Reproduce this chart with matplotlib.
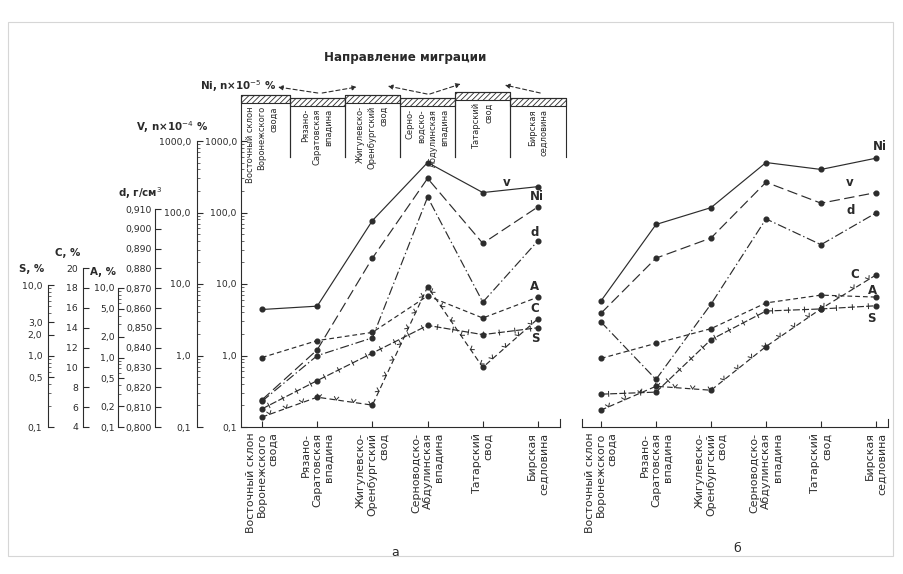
import numpy as np
import matplotlib
matplotlib.use('Agg')
import matplotlib.pyplot as plt
import matplotlib.transforms as mtransforms
from matplotlib.patches import Rectangle
from matplotlib import patheffects as pe
from matplotlib.ticker import FixedLocator, FuncFormatter

plt.rcParams['font.family'] = ['DejaVu Sans']
plt.rcParams['lines.scale_dashes'] = False
plt.rcParams['hatch.linewidth'] = 0.6
plt.rcParams['axes.linewidth'] = 0.8

# ---------------- data ----------------
categories = ["Восточный склон\nВоронежского\nсвода", "Рязано-\nСаратовская\nвпадина",
              "Жигулевско-\nОренбургский\nсвод", "Серноводско-\nАбдулинская\nвпадина",
              "Татарский\nсвод", "Бирская\nседловина"]
box_labels = ["Восточный склон\nВоронежского\nсвода", "Рязано-\nСаратовская\nвпадина",
              "Жигулевско-\nОренбургский\nсвод", "Серно-\nводско-\nАбдулинская\nвпадина",
              "Татарский\nсвод", "Бирская\nседловина"]

# panel а
V_a = [4.4, 4.9, 77, 500, 190, 230]
Ni_a = [0.24, 1.2, 23, 300, 37, 120]
d_a = [0.813, 0.836, 0.845, 0.916, 0.863, 0.894]
A_a = [1.0, 1.75, 2.3, 7.7, 3.7, 7.4]
C_a = [5.0, 7.0, 6.2, 18.1, 10.0, 14.9]
S_a = [0.18, 0.45, 1.1, 2.7, 2.0, 2.5]
# panel б
Ni_b = [5.8, 68, 117, 500, 400, 575]
V_b = [3.9, 23, 44, 265, 135, 190]
d_b = [0.853, 0.824, 0.862, 0.905, 0.892, 0.908]
A_b = [0.97, 1.6, 2.6, 6.1, 7.9, 7.4]
C_b = [5.7, 8.1, 7.7, 12.1, 15.9, 19.3]
S_b = [0.29, 0.31, 1.7, 4.3, 4.6, 5.1]

ni_v_ticks = [0.1, 1, 10, 100, 1000]
d_ticks = [0.800, 0.810, 0.820, 0.830, 0.840, 0.850, 0.860, 0.870, 0.880, 0.890, 0.900, 0.910]
A_ticks = [0.1, 0.2, 0.5, 1, 2, 5, 10]
C_ticks = [4, 6, 8, 10, 12, 14, 16, 18, 20]
S_ticks = [0.1, 0.5, 1, 2, 3, 10]

# ---------------- layout ----------------
W, H = 904, 574
fig = plt.figure(figsize=(W / 100, H / 100), dpi=100)
fig.patch.set_facecolor('white')
LINE = '#2c2c2c'
TXT = '#2a2a2a'


def fx(p):
    return p / W


def fy(p):
    return 1 - p / H


Y_BOT, Y_TOP = 427, 141


def log_top(lo, hi, p_lo, p_hi):
    return lo * 10 ** (np.log10(hi / lo) * (Y_BOT - Y_TOP) / (p_lo - p_hi))


def lin_top(lo, hi, p_lo, p_hi):
    return lo + (hi - lo) * (Y_BOT - Y_TOP) / (p_lo - p_hi)


scales = {
    'main': ('log', (0.1, 1000)),
    'd': ('linear', (0.800, lin_top(0.800, 0.910, 427, 209))),
    'A': ('log', (0.1, log_top(0.1, 10, 427, 288))),
    'C': ('linear', (4, lin_top(4, 20, 427, 268))),
    'S': ('log', (0.1, log_top(0.1, 10, 427, 285))),
}


def comma(fmt):
    return FuncFormatter(lambda v, p: format(v, fmt).replace('.', ','))


def log_minor(lo_exp, hi_exp):
    return [m * 10.0 ** e for e in range(lo_exp, hi_exp) for m in range(2, 10)]


def build_panel(x0, x1, c0, c5):
    ax = fig.add_axes([fx(x0), fy(Y_BOT), fx(x1) - fx(x0), fy(Y_TOP) - fy(Y_BOT)])
    ax.patch.set_visible(False)
    step = (c5 - c0) / 5
    ax.set_xlim(-(c0 - x0) / step, 5 + (x1 - c5) / step)
    ax.set_yscale('log')
    ax.set_ylim(*scales['main'][1])
    tw = {'V': ax, 'Ni': ax}
    for key in ['d', 'A', 'C', 'S']:
        t = ax.twinx()
        sc, lim = scales[key]
        t.set_yscale(sc)
        t.set_ylim(*lim)
        tw[key] = t
    ax.set_xticks(range(6))
    ax.set_xticklabels(categories, rotation=90, fontsize=7.9, linespacing=1.18,
                       multialignment='right', color=TXT)
    ax.tick_params(axis='x', direction='in', length=4, width=0.8, pad=4, colors=LINE)
    ax.spines['top'].set_visible(False)
    ax.spines['right'].set_bounds(0.1, 0.13)
    for s in ax.spines.values():
        s.set_color(LINE)
    return ax, tw


def plot_series(t, ys, dashes=None, ticks=None):
    xs = np.arange(len(ys))
    kw = dict(color=LINE, lw=0.85, marker='o', ms=3.4, mfc=LINE, mec=LINE,
              clip_on=False, zorder=3)
    if dashes is None:
        t.plot(xs, ys, '-', **kw)
    else:
        t.plot(xs, ys, dashes=dashes, **kw)
    if ticks == 'v':
        t.plot(xs, ys, color=LINE, lw=0.7, clip_on=False, zorder=3,
               path_effects=[pe.TickedStroke(spacing=12, angle=55, length=0.22),
                             pe.TickedStroke(spacing=12, angle=125, length=0.22)])
    elif ticks == 'x':
        t.plot(xs, ys, color=LINE, lw=0.7, clip_on=False, zorder=3,
               path_effects=[pe.TickedStroke(spacing=11, angle=90, length=0.16),
                             pe.TickedStroke(spacing=11, angle=-90, length=0.16)])


LONG = (7.5, 3.2)
DASHDOT = (6.5, 2.0, 1.0, 2.0)
SHORT = (3.4, 2.2)
CDASH = (4.0, 2.4)
SDASH = (5.0, 1.6)

# ---------------- panel а ----------------
axa, twa = build_panel(241, 560, 262, 538)
plot_series(twa['V'], V_a)
plot_series(twa['Ni'], Ni_a, LONG)
plot_series(twa['d'], d_a, DASHDOT)
plot_series(twa['A'], A_a, SHORT)
plot_series(twa['C'], C_a, CDASH, 'v')
plot_series(twa['S'], S_a, SDASH, 'x')

# main (Ni) axis at spine
axa.yaxis.set_major_locator(FixedLocator(ni_v_ticks))
axa.yaxis.set_minor_locator(FixedLocator(log_minor(-1, 3)))
axa.yaxis.set_major_formatter(comma('.1f'))
axa.tick_params(axis='y', which='major', direction='in', length=4.5, width=0.8,
                labelsize=6.7, pad=3, right=False, colors=LINE, labelcolor=TXT)
axa.tick_params(axis='y', which='minor', direction='in', length=2, width=0.5,
                right=False, colors=LINE)

# V axis (same scale)
axv = axa.twinx()
axv.set_yscale('log')
axv.set_ylim(*scales['main'][1])
side_axes = [(axv, 197, ni_v_ticks, log_minor(-1, 3), comma('.1f'), (0.1, 1000), 4.5),
             (twa['d'], 155, d_ticks, [], comma('.3f'), (0.800, 0.910), 2.0),
             (twa['A'], 118, A_ticks, log_minor(-1, 1), comma('.1f'), (0.1, 10), 2.5),
             (twa['C'], 83, C_ticks, [], comma('.0f'), (4, 20), 3.5),
             (twa['S'], 48, S_ticks, log_minor(-1, 1), comma('.1f'), (0.1, 10), 4.0)]
for t, xp, maj, mnr, fmt, bounds, pad in side_axes:
    for k in ['top', 'right', 'bottom']:
        t.spines[k].set_visible(False)
    sp = t.spines['left']
    sp.set_visible(True)
    sp.set_color(LINE)
    sp.set_position(('axes', (xp - 241) / (560 - 241)))
    sp.set_bounds(*bounds)
    t.yaxis.tick_left()
    t.yaxis.set_major_locator(FixedLocator(maj))
    t.yaxis.set_minor_locator(FixedLocator(mnr))
    t.yaxis.set_major_formatter(fmt)
    t.tick_params(axis='y', which='major', direction='in', length=4.5, width=0.8,
                  labelsize=6.7, pad=pad, left=True, right=False, labelleft=True,
                  labelright=False, colors=LINE, labelcolor=TXT)
    t.tick_params(axis='y', which='minor', direction='in', length=2, width=0.5,
                  left=True, right=False, colors=LINE)

# boxes with hatched bands above panel а
blend = mtransforms.blended_transform_factory(axa.transData, fig.transFigure)
edges = [axa.get_xlim()[0], 0.5, 1.5, 2.5, 3.5, 4.5, 5.5]
band_top = [95, 98, 95, 98, 92, 98]
BAND_H = 8
BOX_BOTTOM = 157
for i in range(6):
    x0, x1 = edges[i], edges[i + 1]
    top = band_top[i]
    axa.add_patch(Rectangle((x0, fy(top + BAND_H)), x1 - x0, BAND_H / H, transform=blend,
                            facecolor='white', edgecolor=LINE, hatch='//////', lw=0.8,
                            clip_on=False))
    axa.plot([x0, x0, x1, x1], [fy(BOX_BOTTOM), fy(top), fy(top), fy(BOX_BOTTOM)],
             transform=blend, color=LINE, lw=0.8, clip_on=False)
    axa.text(i, fy(top + BAND_H + 3), box_labels[i], transform=blend, rotation=90,
             ha='center', va='top', multialignment='right', fontsize=6,
             linespacing=1.38, color=TXT, clip_on=False)

# migration arrows (tail x, tail y px, head x, head y px)
arrows = [(1.01, 93, 0.29, 87), (1.09, 93, 1.72, 87), (2.99, 94, 2.28, 86),
          (3.04, 94, 3.60, 84), (5.04, 93, 4.40, 85)]
for xt, yt, xh, yh in arrows:
    axa.annotate('', xy=(xh, fy(yh)), xytext=(xt, fy(yt)), xycoords=blend,
                 textcoords=blend, annotation_clip=False,
                 arrowprops=dict(arrowstyle='-|>', linestyle=(0, (3, 2)), lw=0.8,
                                 color=LINE, mutation_scale=7, shrinkA=0, shrinkB=0))

# ---------------- panel б ----------------
axb, twb = build_panel(582, 888, 601, 876)
axb.spines['left'].set_bounds(0.1, 0.13)
axb.tick_params(axis='y', which='both', left=False, right=False, labelleft=False)
for key in ['d', 'A', 'C', 'S']:
    twb[key].axis('off')
plot_series(twb['Ni'], Ni_b)
plot_series(twb['V'], V_b, LONG)
plot_series(twb['d'], d_b, DASHDOT)
plot_series(twb['A'], A_b, SHORT)
plot_series(twb['C'], C_b, CDASH, 'v')
plot_series(twb['S'], S_b, SDASH, 'x')

# ---------------- texts ----------------
fig.text(fx(405), fy(58), 'Направление миграции', ha='center', va='center',
         fontsize=8.6, fontweight='bold', color=TXT)
fig.text(fx(276), fy(86), 'Ni, n×10$^{-5}$ %', ha='right', va='center', fontsize=7.4,
         fontweight='bold', color=TXT)
fig.text(fx(172), fy(127), 'V, n×10$^{-4}$ %', ha='center', va='center', fontsize=7.4,
         fontweight='bold', color=TXT)
fig.text(fx(140), fy(193), 'd, г/см$^3$', ha='center', va='center', fontsize=7.4,
         fontweight='bold', color=TXT)
fig.text(fx(90), fy(272), 'A, %', ha='left', va='center', fontsize=7.4,
         fontweight='bold', color=TXT)
fig.text(fx(68), fy(253), 'C, %', ha='center', va='center', fontsize=7.4,
         fontweight='bold', color=TXT)
fig.text(fx(32), fy(269), 'S, %', ha='center', va='center', fontsize=7.4,
         fontweight='bold', color=TXT)

series_labels = [('v', 507, 182), ('Ni', 537, 197), ('d', 535, 232), ('A', 535, 287),
                 ('C', 535, 308), ('S', 535, 338),
                 ('Ni', 880, 147), ('v', 850, 183), ('d', 851, 210), ('C', 855, 275),
                 ('A', 873, 290), ('S', 871, 318)]
for s, xp, yp in series_labels:
    fig.text(fx(xp), fy(yp), s, ha='center', va='center', fontsize=8.5,
             fontweight='bold', color=TXT)

fig.text(fx(395), fy(552), 'а', ha='center', va='center', fontsize=9, color=TXT)
fig.text(fx(737), fy(548), 'б', ha='center', va='center', fontsize=9, color=TXT)

# light frame
fig.add_artist(Rectangle((fx(8), fy(556)), fx(893) - fx(8), fy(22) - fy(556),
                         transform=fig.transFigure, fill=False, ec='#d6d6d6', lw=0.8))

fig.savefig('out.png', dpi=100, facecolor='white')
